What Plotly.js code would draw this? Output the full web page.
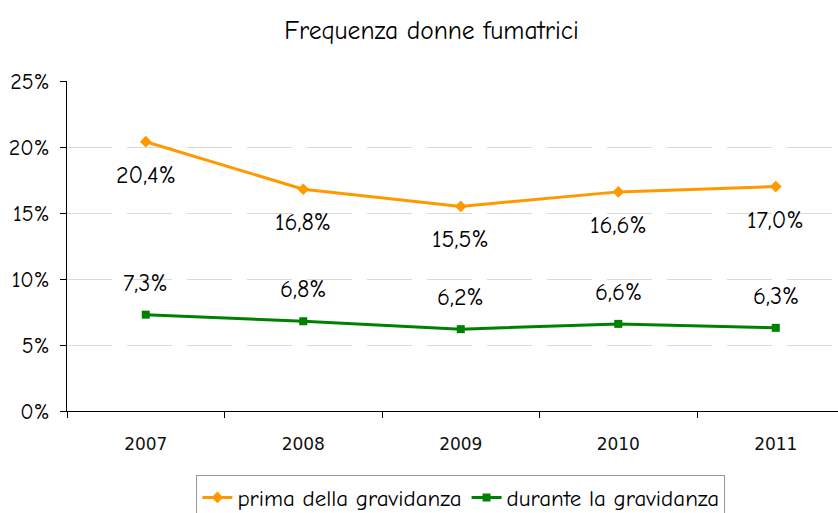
<!DOCTYPE html>
<html>
<head>
<meta charset="utf-8">
<script src="https://cdn.plot.ly/plotly-3.0.1.min.js"></script>
<style>html,body{margin:0;padding:0;background:#fff;}#chart{width:838px;height:513px;}</style>
</head>
<body>
<div id="chart"></div>
<script>
var years = ['2007', '2008', '2009', '2010', '2011'];
var prima = [20.4, 16.8, 15.5, 16.6, 17.0];
var durante = [7.3, 6.8, 6.2, 6.6, 6.3];
var yTicks = [0, 5, 10, 15, 20, 25];

var font = '"Comic Sans MS", "Comic Neue", "DejaVu Sans", sans-serif';
function fmt(v) { return v.toFixed(1).replace('.', ',') + '%'; }

var traces = [
  {x: years, y: prima, name: 'prima della gravidanza', type: 'scatter', mode: 'lines+markers',
   line: {color: '#FF9900', width: 3}, marker: {symbol: 'diamond', size: 9, color: '#FF9900'}},
  {x: years, y: durante, name: 'durante la gravidanza', type: 'scatter', mode: 'lines+markers',
   line: {color: '#008000', width: 3}, marker: {symbol: 'square', size: 8, color: '#008000'}}
];

var annotations = [];
years.forEach(function (yr, i) {
  annotations.push({x: i, y: prima[i], xref: 'x', yref: 'y', text: fmt(prima[i]), showarrow: false, yshift: -33,
    font: {family: font, size: 24, color: '#000'}});
  annotations.push({x: i, y: durante[i], xref: 'x', yref: 'y', text: fmt(durante[i]), showarrow: false, yshift: 32,
    font: {family: font, size: 24, color: '#000'}});
});

var layout = {
  width: 838, height: 513,
  margin: {l: 67, r: 0, t: 81, b: 102},
  paper_bgcolor: '#fff', plot_bgcolor: '#fff',
  title: {text: 'Frequenza donne fumatrici', font: {family: font, size: 25.5, color: '#000'},
          x: 0.515, xref: 'container', xanchor: 'center', y: 1 - 30 / 513, yref: 'container', yanchor: 'middle'},
  xaxis: {type: 'category', range: [-0.5, 4.395], showline: true, linecolor: '#000', linewidth: 1,
          ticks: 'outside', tickson: 'boundaries', ticklen: 6, tickcolor: '#000', showgrid: false,
          ticklabelstandoff: 18,
          tickfont: {family: '"DejaVu Sans", Verdana, sans-serif', size: 17, color: '#111'}, zeroline: false},
  yaxis: {range: [0, 25], tickvals: yTicks, ticktext: yTicks.map(function (t) { return t + '%'; }),
          showline: true, linecolor: '#000', linewidth: 1, ticks: 'outside', ticklen: 6, tickcolor: '#000',
          ticklabelstandoff: 6,
          showgrid: true, gridcolor: '#d9d9d9', gridwidth: 1, griddash: '45px,15px', zeroline: false,
          tickfont: {family: font, size: 22, color: '#000'}},
  showlegend: true,
  legend: {orientation: 'h', x: 0.550, xref: 'container', xanchor: 'center', y: 1 - 475 / 513, yref: 'container', yanchor: 'top',
           bordercolor: '#999', borderwidth: 1, font: {family: font, size: 23, color: '#000'}},
  annotations: annotations
};

Plotly.newPlot('chart', traces, layout, {displayModeBar: false, staticPlot: true});
</script>
</body>
</html>
